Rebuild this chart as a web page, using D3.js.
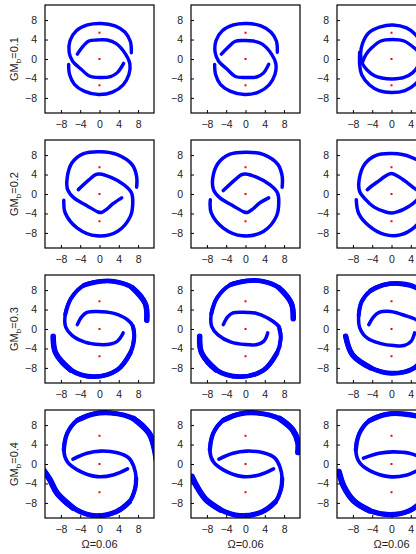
<!DOCTYPE html>
<html>
<head>
<meta charset="UTF-8">
<title>orbits grid</title>
<script src="https://cdn.jsdelivr.net/npm/d3@7"></script>
<style>
  body { margin: 0; background: #fff; }
  svg text { font-family: "Liberation Sans", Arial, sans-serif; fill: #222; }
</style>
</head>
<body>
<svg id="chart" width="416" height="554"></svg>
<script>
// tick values, labels
var ticks = [-8, -4, 0, 4, 8];
var gmLabels = ["0.1", "0.2", "0.3", "0.4"];
var omegaLabels = ["0.06", "0.06", "0.06"];

// red points (centre and the two on the y axis), one list per row
var redRow1 = [[0, 5.4], [0, 0], [0, -5.4]];
var redRow2 = [[0, 5.5], [0, 0], [0, -5.6]];
var redRow3 = [[0, 5.7], [0, 0], [0, -5.6]];
var redRow4 = [[0, 5.8], [0, 0], [0, -5.8]];

// arms, [x, y], outer end first
var a11 = [[6.6,1.3],[6.4,3.6],[5.3,5.5],[3.2,6.8],[0.3,7.3],[-2.5,7.0],[-4.8,5.8],[-6.1,3.8],[-6.3,1.4],[-5.6,-0.4],[-3.8,-2.1],[-2.1,-3.5],[0.2,-3.8],[2.3,-3.6],[3.7,-2.8],[5.0,-0.9]];
var b11 = [[-6.4,-1.1],[-6.2,-3.2],[-5.2,-5.2],[-3.2,-6.6],[-0.2,-7.3],[2.7,-6.8],[4.9,-5.3],[6.1,-3.2],[6.3,-1.0],[5.4,1.0],[3.4,3.2],[1.6,3.9],[-0.5,3.9],[-2.2,3.7],[-3.6,2.4],[-4.6,1.0]];
var a12 = [[6.6,1.4],[6.4,3.7],[5.3,5.5],[3.2,6.8],[0.3,7.3],[-2.5,7.0],[-4.8,5.8],[-6.1,3.8],[-6.3,1.4],[-5.6,-0.4],[-3.8,-2.1],[-2.1,-3.6],[0.2,-3.8],[2.3,-3.7],[3.7,-2.9],[4.8,-1.1]];
var b12 = [[-6.4,-1.1],[-6.2,-3.2],[-5.2,-5.2],[-3.2,-6.6],[-0.2,-7.3],[2.7,-6.8],[4.9,-5.3],[6.1,-3.2],[6.3,-1.0],[5.4,1.0],[3.4,3.1],[1.6,3.7],[-0.5,3.8],[-2.2,3.6],[-3.6,2.4],[-5.0,1.0]];
var a13 = [[6.6,-1.4],[6.7,1.2],[6.1,3.4],[4.9,5.1],[3.1,6.4],[0.3,7.0],[-2.3,6.6],[-4.8,5.3],[-6.0,3.2],[-6.4,1.0],[-6.0,-1.0],[-5.0,-2.3],[-3.6,-3.4],[-2.0,-3.9],[0.2,-4.1],[2.6,-3.8],[4.4,-2.8],[5.6,-1.2],[6.0,0.6]];
var b13 = [[-6.6,1.4],[-6.6,-1.2],[-6.2,-3.2],[-4.6,-5.3],[-2.6,-6.5],[0.0,-6.9],[2.8,-6.5],[4.9,-5.2],[6.2,-3.2],[6.6,-1.0],[6.0,1.0],[4.8,2.2],[2.6,3.7],[0.2,4.0],[-2.2,3.7],[-4.0,2.4],[-5.3,0.9],[-6.0,-0.6]];

var a21 = [[7.7,1.4],[7.7,3.6],[6.8,6.0],[3.7,8.1],[0.2,8.7],[-3.3,8.3],[-5.7,6.4],[-6.7,3.3],[-6.6,0.9],[-5.3,-0.8],[-2.6,-2.4],[-0.3,-3.7],[0.4,-3.8],[1.4,-3.2],[2.8,-2.0],[4.6,-0.8]];
var b21 = [[-7.4,-1.3],[-7.1,-3.9],[-4.6,-7.0],[-0.6,-8.6],[3.7,-7.7],[6.4,-4.6],[6.9,-1.6],[6.6,0.3],[5.1,1.9],[2.4,3.4],[0.0,4.1],[-0.8,4.0],[-2.2,2.9],[-4.4,0.9]];
var a22 = [[7.6,1.4],[7.6,3.7],[6.7,6.1],[3.8,8.1],[0.4,8.6],[-3.2,8.2],[-5.7,6.3],[-6.8,3.2],[-6.6,0.8],[-5.3,-0.8],[-2.6,-2.4],[-0.3,-3.7],[0.4,-3.8],[1.5,-3.1],[3.0,-1.8],[4.8,-0.8]];
var b22 = [[-7.3,-1.2],[-7.1,-3.9],[-4.6,-7.0],[-0.6,-8.6],[3.7,-7.7],[6.4,-4.6],[6.9,-1.6],[6.6,0.3],[5.1,1.9],[2.4,3.4],[0.0,4.1],[-0.8,4.0],[-2.2,2.9],[-4.6,0.7]];
var a23 = [[7.6,1.2],[7.6,3.6],[6.6,6.0],[4.0,7.6],[0.2,8.3],[-3.3,7.9],[-5.5,6.2],[-6.7,3.0],[-6.6,0.5],[-5.5,-1.0],[-3.6,-2.7],[-1.2,-3.7],[0.1,-3.9],[1.4,-3.6],[2.6,-3.1],[4.0,-2.3],[5.5,-1.0]];
var b23 = [[-7.3,-1.2],[-6.8,-4.0],[-4.6,-6.6],[-1.5,-8.3],[1.8,-8.4],[4.8,-6.8],[6.6,-4.4],[7.1,-1.6],[6.6,0.0],[5.0,1.0],[3.3,2.3],[1.4,3.6],[-0.1,4.2],[-1.4,3.6],[-2.6,2.7],[-3.9,1.8],[-5.0,0.9]];

var a31 = [[9.8,1.8],[9.5,5.2],[6.8,8.5],[3.5,9.7],[0.2,9.8],[-3.2,9.0],[-5.9,6.3],[-7.1,3.0],[-7.0,0.4],[-5.7,-1.3],[-3.0,-2.7],[0.0,-3.2],[2.3,-3.1],[3.6,-2.6],[4.4,-1.7],[4.9,-0.8]];
var b31 = [[-9.6,-1.5],[-9.1,-4.9],[-6.0,-8.4],[-1.2,-9.8],[3.7,-8.4],[6.4,-4.9],[7.2,-1.6],[6.9,0.6],[5.8,1.9],[3.0,3.2],[-0.6,3.6],[-2.6,3.4],[-3.7,2.5],[-4.6,0.9]];
var a32 = [[9.9,2.1],[9.5,5.3],[6.9,8.5],[3.6,9.8],[0.3,9.9],[-3.1,9.1],[-5.9,6.4],[-7.1,3.1],[-7.0,0.5],[-5.7,-1.2],[-3.0,-2.7],[0.0,-3.2],[2.4,-3.2],[3.7,-2.6],[4.3,-1.7],[4.6,-0.8]];
var b32 = [[-9.5,-1.5],[-9.1,-4.9],[-6.1,-8.4],[-1.2,-9.8],[3.7,-8.5],[6.5,-5.0],[7.3,-2.0],[6.9,0.5],[4.5,2.3],[2.0,3.3],[0.4,3.4],[-2.6,3.3],[-3.7,2.5],[-4.6,0.9]];
var a33 = [[9.5,1.5],[8.6,5.0],[5.5,8.3],[2.0,9.3],[-1.5,9.1],[-4.3,7.9],[-6.2,5.6],[-6.8,2.8],[-6.6,0.3],[-5.0,-1.9],[-2.2,-3.0],[0.5,-3.4],[2.6,-3.4],[4.0,-2.6],[4.8,-0.8]];
var b33 = [[-9.5,-1.5],[-8.1,-5.3],[-4.3,-8.0],[0.0,-9.1],[4.7,-8.0],[7.2,-5.0],[7.2,-1.8],[6.6,0.5],[5.3,1.8],[3.0,2.7],[-0.2,3.6],[-2.6,3.4],[-3.8,2.4],[-4.7,0.9]];

var a41 = [[11.8,1.0],[11.3,3.6],[10.3,6.3],[7.1,9.3],[2.3,10.5],[-1.2,10.3],[-4.6,9.0],[-6.7,6.3],[-7.4,2.9],[-6.7,0.5],[-4.6,-1.2],[-0.5,-2.6],[3.0,-2.2],[5.8,-1.0]];
var b41 = [[-11.6,-1.3],[-10.3,-3.2],[-8.8,-6.0],[-5.5,-9.0],[-1.2,-10.6],[3.5,-9.8],[6.2,-7.8],[7.4,-5.0],[7.6,-3.0],[7.1,-0.5],[6.1,1.2],[3.7,2.3],[0.2,2.65],[-2.6,2.2],[-5.5,1.0]];
var a42 = [[10.9,2.4],[10.9,4.4],[9.8,7.0],[7.1,9.3],[2.3,10.5],[-1.2,10.3],[-4.6,9.0],[-6.7,6.3],[-7.4,2.9],[-6.7,0.5],[-4.6,-1.2],[-0.5,-2.6],[3.0,-2.2],[5.8,-1.0]];
var b42 = [[-11.1,-2.6],[-10.1,-4.6],[-8.3,-7.2],[-5.2,-9.4],[-1.2,-10.6],[3.5,-9.8],[6.2,-7.8],[7.4,-5.0],[7.6,-3.0],[7.1,-0.5],[6.1,1.2],[3.7,2.3],[0.2,2.65],[-2.6,2.2],[-5.5,1.0]];
var a43 = [[11.5,1.2],[11.2,3.8],[10.2,6.3],[7.1,9.2],[2.3,10.3],[-1.2,10.2],[-4.6,8.9],[-6.7,6.2],[-7.4,2.9],[-6.7,0.4],[-4.6,-1.3],[-0.5,-2.6],[3.0,-2.3],[5.8,-1.1]];
var b43 = [[-10.9,-1.6],[-9.9,-4.6],[-7.8,-7.6],[-4.5,-9.6],[-0.5,-10.4],[3.5,-9.7],[6.2,-7.8],[7.4,-5.0],[7.6,-3.0],[7.1,-0.5],[6.1,1.2],[3.7,2.2],[0.2,2.5],[-2.6,2.2],[-5.8,1.2]];

var rows = [
  { red: redRow1, arms: [[a11, b11], [a12, b12], [a13, b13]] },
  { red: redRow2, arms: [[a21, b21], [a22, b22], [a23, b23]] },
  { red: redRow3, arms: [[a31, b31], [a32, b32], [a33, b33]] },
  { red: redRow4, arms: [[a41, b41], [a42, b42], [a43, b43]] }
];

var W = 109, H = 108, left0 = 45, top0 = 5, dx = 146, dy = 135;
// stroke widths per row: [how many points from the outer end, width]; 0 = whole arm
var bands = [
  [[0, 3.4]],
  [[0, 3.5]],
  [[0, 3.5], [8, 4.1], [6, 4.8], [3, 5.5]],
  [[0, 3.6], [9, 4.3], [7, 5.1], [4, 6.0]]
];

var x = d3.scaleLinear().domain([-11.3, 11.3]).range([0, W]);
var y = d3.scaleLinear().domain([-11.1, 11.1]).range([H, 0]);

var line = d3.line()
  .x(function(d) { return x(d[0]); })
  .y(function(d) { return y(d[1]); })
  .curve(d3.curveCatmullRom.alpha(0.5));

var svg = d3.select("#chart");

rows.forEach(function(row, r) {
  row.arms.forEach(function(pair, c) {
    var g = svg.append("g")
      .attr("transform", "translate(" + (left0 + c * dx) + "," + (top0 + r * dy) + ")");
    var id = "clip" + r + c;
    g.append("clipPath").attr("id", id)
      .append("rect").attr("width", W).attr("height", H);

    var plot = g.append("g").attr("clip-path", "url(#" + id + ")");
    pair.forEach(function(arm) {
      bands[r].forEach(function(s) {
        plot.append("path")
          .datum(s[0] ? arm.slice(0, s[0]) : arm)
          .attr("d", line)
          .attr("fill", "none")
          .attr("stroke", "#0000ff")
          .attr("stroke-width", s[1])
          .attr("stroke-linecap", "round")
          .attr("stroke-linejoin", "round");
      });
    });

    plot.selectAll("rect.pt").data(row.red).enter().append("rect")
      .attr("class", "pt")
      .attr("x", function(d) { return x(d[0]) - 1; })
      .attr("y", function(d) { return y(d[1]) - 1; })
      .attr("width", 2).attr("height", 2)
      .attr("fill", "#ff0000");

    // axes, ticks inward
    var xa = g.append("g").attr("transform", "translate(0," + H + ")")
      .call(d3.axisBottom(x).tickValues(ticks).tickSizeInner(-3).tickSizeOuter(0).tickPadding(8)
        .tickFormat(d3.format("d")));
    var ya = g.append("g")
      .call(d3.axisLeft(y).tickValues(ticks).tickSizeInner(-3).tickSizeOuter(0).tickPadding(8)
        .tickFormat(d3.format("d")));
    [xa, ya].forEach(function(a) {
      a.select(".domain").remove();
      a.selectAll("line").attr("stroke", "#000");
      a.selectAll("text").attr("font-size", 10.5)
        .attr("font-family", "Liberation Sans, Arial, sans-serif").attr("fill", "#222");
    });
    xa.selectAll("text").attr("dy", "0.71em");

    g.append("rect").attr("width", W).attr("height", H)
      .attr("fill", "none").attr("stroke", "#000").attr("stroke-width", 1.2);

    if (c === 0) {
      var t = g.append("text")
        .attr("transform", "translate(-27," + (H / 2) + ") rotate(-90)")
        .attr("text-anchor", "middle")
        .attr("font-size", 11);
      t.append("tspan").text("GM");
      t.append("tspan").attr("font-size", 8).attr("dy", 3).text("b");
      t.append("tspan").attr("dy", -3).text("=" + gmLabels[r]);
    }
    if (r === rows.length - 1) {
      g.append("text")
        .attr("x", W / 2).attr("y", H + 30)
        .attr("text-anchor", "middle")
        .attr("font-size", 11)
        .text("\u03a9=" + omegaLabels[c]);
    }
  });
});
</script>
</body>
</html>
